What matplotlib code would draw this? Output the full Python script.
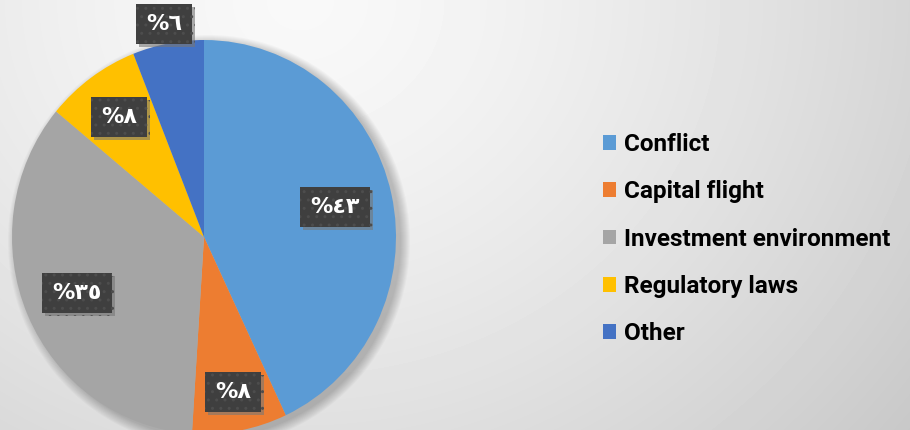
import numpy as np
import matplotlib
matplotlib.use('Agg')
import matplotlib.pyplot as plt
import matplotlib.patheffects as pe
from matplotlib.patches import Ellipse

plt.rcParams['font.family'] = ['DejaVu Sans']

labels = ['Conflict', 'Capital flight', 'Investment environment', 'Regulatory laws', 'Other']
values = [43, 8, 35, 8, 6]
valueText = ['%٤٣', '%٨', '%٣٥', '%٨', '%٦']
colors = ['#5b9bd5', '#ed7d31', '#a5a5a5', '#ffc000', '#4472c4']
labelDist = [0.7, 0.8, 0.72, 0.75, 1.1]

W, H = 910, 430
fig = plt.figure(figsize=(W / 100, H / 100), dpi=100)

# background gradient, light at top-left/middle, grey to the right and bottom
bg = fig.add_axes([0, 0, 1, 1])
yy, xx = np.mgrid[0:H, 0:W]
d = np.sqrt(((xx - 300) / 2540.0) ** 2 + (yy / 2265.0) ** 2)
shade = np.clip(0.975 - d ** 1.4, 0, 1)
bg.imshow(shade, cmap='gray', vmin=0, vmax=1, aspect='auto', extent=[0, W, H, 0])
bg.set_xlim(0, W)
bg.set_ylim(H, 0)
bg.axis('off')

# pie (slightly elliptical, bottom cut by the frame)
cx, cy, rx, ry = 204, 237, 192, 197

# soft shadow behind the pie
for k in range(10):
    bg.add_patch(Ellipse((cx + 5, cy + 4), 2 * rx + 2 * k, 2 * ry + 2 * k,
                         fc='black', ec='none', alpha=0.025))

ax = fig.add_axes([(cx - rx) / W, (H - cy - ry) / H, 2 * rx / W, 2 * ry / H])
wedges, _ = ax.pie(values, colors=colors, startangle=90, counterclock=False,
                   wedgeprops=dict(linewidth=0))
for w in wedges:
    w.set_clip_on(False)
ax.set_aspect('auto')
ax.set_xlim(-1, 1)
ax.set_ylim(-1, 1)
ax.axis('off')

for w, txt, r in zip(wedges, valueText, labelDist):
    ang = np.deg2rad((w.theta1 + w.theta2) / 2)
    t = ax.text(r * np.cos(ang), r * np.sin(ang), txt, ha='center', va='center',
                color='white', fontsize=16, fontweight='bold', clip_on=False,
                bbox=dict(boxstyle='square,pad=0.45', fc='#3f3f3f', ec='#4d4d4d',
                          lw=0, hatch='..'))
    t.get_bbox_patch().set_path_effects([
        pe.SimplePatchShadow(offset=(2, -2), shadow_rgbFace='#777777', alpha=0.6),
        pe.Normal()])

# legend
handles = [plt.Rectangle((0, 0), 1, 1, fc=c, ec='none') for c in colors]
fig.legend(handles, labels, loc='center left', bbox_to_anchor=(603 / W, 1 - 239 / H),
           frameon=False, borderpad=0, borderaxespad=0,
           handlelength=0.55, handleheight=0.55, handletextpad=0.3,
           labelspacing=1.0, prop=dict(family='Roboto', weight='bold', size=17.5))

fig.savefig('out.png', dpi=100)
